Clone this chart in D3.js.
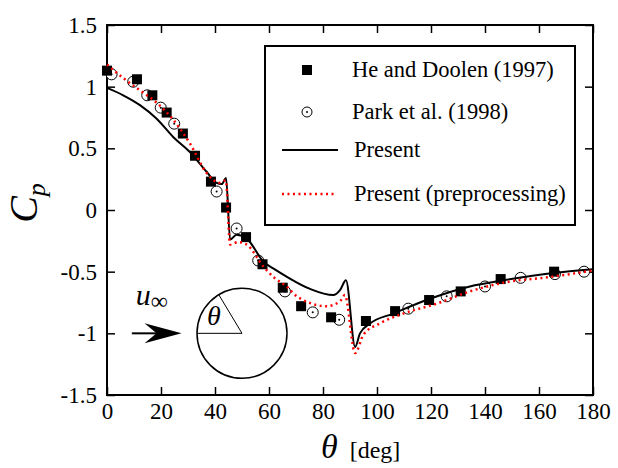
<!DOCTYPE html>
<html>
<head>
<meta charset="utf-8">
<script src="https://cdn.jsdelivr.net/npm/d3@7"></script>
</head>
<body style="margin:0; background:#fff">
<svg id="chart"></svg>
<script>
// He and Doolen (1997) - filled squares
var heDoolenTheta = [0, 11.1, 16.8, 22.1, 28.1, 32.6, 38.5, 44.1, 51.5, 57.6, 65.1, 71.9, 83.0, 95.9, 106.7, 119.3, 131.0, 145.8, 165.6]
var heDoolenCp    = [1.13, 1.06, 0.93, 0.79, 0.62, 0.44, 0.23, 0.02, -0.22, -0.44, -0.63, -0.78, -0.87, -0.90, -0.82, -0.73, -0.66, -0.56, -0.50]

// Park et al. (1998) - open circles
var parkTheta = [1.7, 9.7, 14.9, 19.9, 24.9, 40.6, 48.0, 56.0, 65.9, 76.2, 86.0, 111.6, 125.8, 140.0, 153.2, 165.9, 176.7]
var parkCp    = [1.10, 1.04, 0.93, 0.83, 0.70, 0.15, -0.15, -0.41, -0.66, -0.83, -0.89, -0.80, -0.70, -0.62, -0.55, -0.52, -0.50]

// Present - solid line
var presentTheta = [0, 6, 12.2, 18.4, 24.6, 30.7, 36.9, 40.6, 42.5, 44.1, 45.6, 48.0, 51.7, 58.0, 62.0, 66.5, 75.2, 83.8, 86.3, 88.5, 91.9, 93.7, 97.4, 106.0, 119.6, 134.4, 146.8, 165.3, 180]
var presentCp    = [0.99, 0.93, 0.85, 0.74, 0.59, 0.47, 0.31, 0.22, 0.21, 0.26, -0.24, -0.20, -0.23, -0.42, -0.48, -0.54, -0.64, -0.69, -0.65, -0.57, -1.11, -1.00, -0.92, -0.84, -0.72, -0.62, -0.57, -0.51, -0.48]

// Present (preprocessing) - red dotted line
var prepTheta = [0, 6, 12.2, 18.4, 24.6, 30.7, 36.9, 41.8, 44.0, 45.6, 48.6, 51.7, 58.0, 62.0, 66.5, 70.3, 81.4, 86.3, 88.1, 91.9, 95.0, 101.0, 109.7, 122.0, 134.4, 146.8, 165.3, 180]
var prepCp    = [1.18, 1.07, 0.97, 0.87, 0.73, 0.54, 0.30, 0.22, 0.24, -0.28, -0.26, -0.28, -0.46, -0.55, -0.62, -0.70, -0.78, -0.74, -0.69, -1.16, -1.01, -0.92, -0.84, -0.76, -0.66, -0.59, -0.54, -0.49]

var xTicks = [0, 20, 40, 60, 80, 100, 120, 140, 160, 180]
var yTicks = [-1.5, -1, -0.5, 0, 0.5, 1, 1.5]

var legendLabels = ["He and Doolen (1997)", "Park et al. (1998)", "Present", "Present (preprocessing)"]

var serif = "Liberation Serif"

// set the dimensions and margins of the graph
var margin = {top: 25, right: 25, bottom: 73, left: 107},
    width = 618 - margin.left - margin.right,
    height = 468 - margin.top - margin.bottom;

var svg = d3.select("#chart")
    .attr("width", 618)
    .attr("height", 468)
    .append("g")
    .attr("transform", "translate(" + margin.left + "," + margin.top + ")");

var x = d3.scaleLinear().domain([0, 180]).range([0, width])
var y = d3.scaleLinear().domain([-1.5, 1.5]).range([height, 0])

var fmt = function(d){ return String(d) }

// axes with inward ticks on all four sides
svg.append("g")
    .attr("transform", "translate(0," + height + ")")
    .call(d3.axisBottom(x).tickValues(xTicks).tickFormat(fmt).tickSizeInner(-8).tickSizeOuter(0).tickPadding(8))
svg.append("g")
    .call(d3.axisTop(x).tickValues(xTicks).tickFormat("").tickSizeInner(-8).tickSizeOuter(0))
svg.append("g")
    .call(d3.axisLeft(y).tickValues(yTicks).tickFormat(fmt).tickSizeInner(-8).tickSizeOuter(0).tickPadding(10))
svg.append("g")
    .attr("transform", "translate(" + width + ",0)")
    .call(d3.axisRight(y).tickValues(yTicks).tickFormat("").tickSizeInner(-8).tickSizeOuter(0))

svg.selectAll(".domain").remove()
svg.selectAll(".tick line").attr("stroke", "#000").attr("stroke-width", 1.5)
svg.selectAll(".tick text")
    .attr("fill", "#000")
    .attr("font-size", 23)

svg.append("rect")
    .attr("width", width)
    .attr("height", height)
    .attr("fill", "none")
    .attr("stroke", "#000")
    .attr("stroke-width", 2)

// inset: free stream arrow and cylinder
var cx = x(50), cy = y(-1), r = 45
var inset = svg.append("g").attr("class", "inset")
inset.append("circle")
    .attr("cx", cx).attr("cy", cy).attr("r", r)
    .attr("fill", "none").attr("stroke", "#000").attr("stroke-width", 1.5)
inset.append("line")
    .attr("x1", cx - r).attr("y1", cy).attr("x2", cx).attr("y2", cy)
    .attr("stroke", "#000").attr("stroke-width", 1)
var ang = 59 * Math.PI / 180
inset.append("line")
    .attr("x1", cx).attr("y1", cy)
    .attr("x2", cx - r * Math.cos(ang)).attr("y2", cy - r * Math.sin(ang))
    .attr("stroke", "#000").attr("stroke-width", 1)
inset.append("text")
    .attr("x", cx - 28).attr("y", cy - 8)
    .attr("text-anchor", "middle")
    .attr("font-style", "italic").attr("font-size", 28)
    .text("θ")

var ax0 = x(9.2), ax1 = x(27.6), ay = y(-1)
inset.append("line")
    .attr("x1", ax0).attr("y1", ay).attr("x2", ax1 - 22).attr("y2", ay)
    .attr("stroke", "#000").attr("stroke-width", 2)
inset.append("path")
    .attr("d", "M" + ax1 + "," + ay + "L" + (ax1 - 37) + "," + (ay - 10) + "L" + (ax1 - 25) + "," + ay + "L" + (ax1 - 37) + "," + (ay + 10) + "Z")
    .attr("fill", "#000")
var uText = inset.append("text")
    .attr("x", ax0 + 4).attr("y", ay - 28)
    .attr("font-style", "italic").attr("font-size", 30)
uText.append("tspan").text("u")
uText.append("tspan").attr("dy", 4).attr("font-style", "normal").attr("font-size", 24).text("∞")

// Park circles
var parkData = parkTheta.map(function(t, i){ return [t, parkCp[i]] })
var gPark = svg.append("g").attr("class", "park")
gPark.selectAll("circle.ring")
    .data(parkData).enter().append("circle")
    .attr("class", "ring")
    .attr("cx", function(d){ return x(d[0]) })
    .attr("cy", function(d){ return y(d[1]) })
    .attr("r", 5.5)
    .attr("fill", "#fff").attr("stroke", "#000").attr("stroke-width", 1)
gPark.selectAll("circle.dot")
    .data(parkData).enter().append("circle")
    .attr("class", "dot")
    .attr("cx", function(d){ return x(d[0]) })
    .attr("cy", function(d){ return y(d[1]) })
    .attr("r", 1)
    .attr("fill", "#000")

// He and Doolen squares
var heData = heDoolenTheta.map(function(t, i){ return [t, heDoolenCp[i]] })
svg.append("g").attr("class", "he")
    .selectAll("rect")
    .data(heData).enter().append("rect")
    .attr("x", function(d){ return x(d[0]) - 5 })
    .attr("y", function(d){ return y(d[1]) - 5 })
    .attr("width", 10).attr("height", 10)
    .attr("fill", "#000")

var line = d3.line()
    .x(function(d){ return x(d[0]) })
    .y(function(d){ return y(d[1]) })
    .curve(d3.curveMonotoneX)

svg.append("path")
    .datum(presentTheta.map(function(t, i){ return [t, presentCp[i]] }))
    .attr("d", line)
    .attr("fill", "none").attr("stroke", "#000").attr("stroke-width", 2)

svg.append("path")
    .datum(prepTheta.map(function(t, i){ return [t, prepCp[i]] }))
    .attr("d", line)
    .attr("fill", "none").attr("stroke", "#f00").attr("stroke-width", 2.5)
    .attr("stroke-dasharray", "2,3.5")

// legend
var lg = svg.append("g").attr("transform", "translate(" + (265 - margin.left) + "," + (46 - margin.top) + ")")
lg.append("rect")
    .attr("width", 310).attr("height", 179)
    .attr("fill", "#fff").attr("stroke", "#000").attr("stroke-width", 2)
var rows = [24, 66, 104, 148]
lg.append("rect").attr("x", 37).attr("y", rows[0] - 5).attr("width", 10).attr("height", 10).attr("fill", "#000")
lg.append("circle").attr("cx", 42).attr("cy", rows[1]).attr("r", 5).attr("fill", "#fff").attr("stroke", "#000")
lg.append("circle").attr("cx", 42).attr("cy", rows[1]).attr("r", 1).attr("fill", "#000")
lg.append("line").attr("x1", 17).attr("x2", 73).attr("y1", rows[2]).attr("y2", rows[2])
    .attr("stroke", "#000").attr("stroke-width", 2)
lg.append("line").attr("x1", 17).attr("x2", 72).attr("y1", rows[3]).attr("y2", rows[3])
    .attr("stroke", "#f00").attr("stroke-width", 2.5).attr("stroke-dasharray", "2,3.5")
lg.selectAll("text.lab")
    .data(legendLabels).enter().append("text")
    .attr("class", "lab")
    .attr("x", function(d, i){ return i < 2 ? 87 : 89 })
    .attr("y", function(d, i){ return rows[i] })
    .attr("dy", "0.33em")
    .attr("font-size", 22.5)
    .text(function(d){ return d })

// axis titles
var xt = svg.append("text")
    .attr("x", 321 - margin.left).attr("y", 458 - margin.top)
xt.append("tspan").attr("font-style", "italic").attr("font-size", 34).text("θ")
xt.append("tspan").attr("dx", 12).attr("font-size", 24).text("[deg]")

var yt = svg.append("text")
    .attr("transform", "translate(" + (37 - margin.left) + "," + (203 - margin.top) + ") rotate(-90)")
    .attr("text-anchor", "middle")
yt.append("tspan").attr("font-style", "italic").attr("font-size", 40).text("C")
yt.append("tspan").attr("dy", 8).attr("font-style", "italic").attr("font-size", 26).text("p")

// serif everywhere
d3.select("#chart").selectAll("text")
    .attr("font-family", serif)
    .attr("fill", "#000")
</script>
</body>
</html>
